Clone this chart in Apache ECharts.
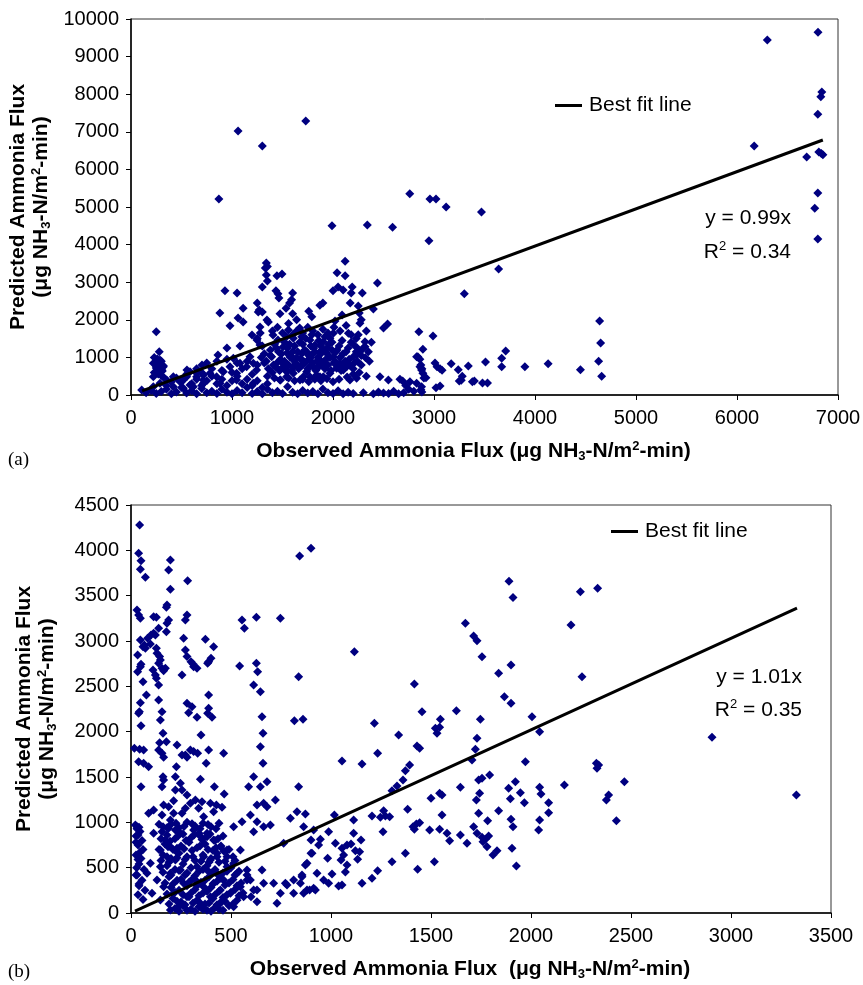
<!DOCTYPE html>
<html><head><meta charset="utf-8">
<script src="https://cdn.jsdelivr.net/npm/echarts@6/dist/echarts.min.js"></script>
<style>html,body{margin:0;padding:0;background:#fff}#c{width:863px;height:985px}</style>
</head><body><div id="c"></div>
<script>
// ---------- DATA: panel (a) ----------
const xMaxA = 7000, xStepA = 1000, yMaxA = 10000, yStepA = 1000;
const fitSlopeA = 0.99, fitXRangeA = [110, 6850];
const eqTextA = 'y = 0.99x', r2TextA = '0.34';
const pointsA = [
[6802,9650],[6300,9440],[6840,8060],[6830,7930],[6800,7470],[6170,6620],[6690,6330],[6810,6460],[6835,6420],[6850,6390],[6800,5370],[6770,4970],[6800,4150],
[1060,7020],[1730,7290],[1300,6620],[870,5210],[2760,5350],[2960,5210],[3020,5210],[3120,5000],[3470,4870],[2950,4100],[1990,4500],[2340,4520],[2590,4460],[3640,3350],[3300,2690],
[1340,3510],[1350,3420],[1330,3380],[1340,3190],[1350,3030],[1445,3170],[1495,3220],[2120,3560],[2040,3250],[2120,3170],[2000,2770],[2050,2870],[2100,2790],[930,2770],[1050,2710],[1300,2870],[1435,2770],[1455,2690],[1465,2580],[1600,2710],[1590,2530],[1570,2450],[2440,2980],[2290,2710],[2190,2870],[2180,2710],[880,2180],[1110,2310],[1060,2050],[1110,1940],[980,1840],[1250,2450],[1270,2260],[1260,2210],[1300,2210],[1360,1940],[1475,2160],[1535,2310],[1600,2160],[1640,2000],[1670,1780],[1760,2230],[1790,2080],[1870,2390],[1900,2450],[2020,1970],[2090,2130],[2170,2450],[2250,2370],[2260,2180],[2280,2000],[2400,2290],[2500,1780],[2540,1890],
[2850,1680],[2990,1570],[2890,1220],[2840,1020],[2828,1019],[2861,753],[2877,665],[2860,950],[2870,800],[2880,700],[2890,580],[2900,450],[2920,460],[3010,850],[3030,750],[3060,700],[3080,660],[3170,830],[3240,670],[3280,500],[3340,770],[3250,370],[3270,390],[3380,350],[3400,370],[3480,320],[3530,320],[3510,880],[3670,980],[3670,750],[3710,1170],[3900,750],[4130,830],[4450,670],[4640,1970],[4650,1380],[4630,900],[4660,500],[3020,190],[3060,240],
[2690,370],[2720,250],[2750,150],[2800,100],[2880,80],[2870,140],
[250,1680],[280,1150],[221,843],[254,753],[287,931],[270,577],[304,665],[221,487],[320,753],[230,1000],[260,960],[300,900],[240,850],[280,820],[320,780],[250,720],[290,680],[310,640],[230,600],[270,560],[300,520],[330,450],
[554,665],[703,800],[861,1064],[950,1250],[1079,1303],[1247,1463],[1277,1330],[1198,1596],[1277,1809],[1346,1995],[1406,1596],[1455,1463],[1505,1277],[1544,1117],[1574,1011],
[1393,1019],[1442,843],[1508,753],[1607,931],[1673,753],[1739,620],[1805,753],[1871,931],[1937,1109],[2003,1019],[2069,843],[2135,753],[2201,1019],[2267,1152],
[2317,1418],[2317,1285],[2234,1064],[2152,1641],[2267,1907],
[1558,1729],[1607,1508],[1690,1551],[1772,1463],[1822,1330],[1904,1418],[1970,1508],[2003,1641],[1739,1152],[1805,1109],[1871,1152],
[1475,665],[1541,620],[1607,577],[1706,487],[1772,487],[1838,532],[1904,487],[1970,577],[2036,710],[2102,665],
[1178,1019],[1211,843],[1145,753],[1244,665],
[1013,976],[1079,843],[980,753],[1046,577],[914,620],[848,487],[782,577],[716,532],[650,487],[584,620],[518,399],
[584,266],[716,399],[881,311],[1046,399],[1211,311],[1475,399],[1541,487],[1673,399],[1871,487],[2168,399],[2234,443],[2465,487],[2548,399],[2663,417],[2762,354],[2828,311],[2877,221],
[106,133],[221,221],[287,311],[353,399],[419,487],[485,354],[551,487],[650,577],[419,221],[518,178],[617,221],[716,311],
[150,60],[200,120],[250,40],[300,90],[350,150],[400,30],[450,80],[500,200],[550,50],[600,110],[650,30],[700,170],[750,60],[800,100],[850,40],[900,150],[950,70],[1000,30],[1050,120],[1100,60],[1150,200],[1200,40],[1250,90],[1300,30],[1350,150],[1400,60],[1450,100],[1500,40],[1550,220],[1600,70],[1650,30],[1700,120],[1750,50],[1800,90],[1850,30],[1900,160],[1950,60],[2000,40],[2050,110],[2100,30],[2150,70],[2200,40],[2300,60],[2400,30],[2450,80],[2500,50],[2550,40],[2600,100],[2650,30],[2700,60],
[1300,1300],[1320,1100],[1380,1200],[1420,1350],[1460,1150],[1480,950],[1520,1400],[1550,1250],[1580,1050],[1620,1300],[1650,1150],[1680,950],[1700,1350],[1720,1200],[1760,1050],[1780,1300],[1820,1150],[1850,1000],[1880,1300],[1900,1200],[1930,950],[1960,1350],[1990,1200],[2030,1150],[2060,1300],[2100,1100],[2150,1250],[2200,1350],[2240,1250],
[1320,850],[1360,700],[1400,600],[1430,750],[1470,650],[1500,850],[1530,700],[1560,800],[1590,650],[1630,850],[1660,700],[1700,800],[1740,900],[1770,750],[1800,850],[1830,650],[1860,750],[1890,850],[1920,700],[1950,800],[1980,650],[2010,850],[2050,750],[2080,650],[2120,900],[2160,800],[2200,700],[2240,900],[2280,800],[2320,1000],
[1350,500],[1420,450],[1480,400],[1560,450],[1620,380],[1700,420],[1760,350],[1820,420],[1880,380],[1940,430],[2000,350],[2060,420],[2140,480],[2200,550],[2260,600],[2330,500],
[1250,1500],[1280,1650],[1400,1700],[1450,1800],[1500,1650],[1560,1900],[1600,1600],[1640,1700],[1700,1650],[1750,1800],[1800,1700],[1850,1600],[1900,1750],[1950,1650],[2010,1800],[2070,1700],[2130,1850],[2180,1600],[2230,1500],
[600,300],[650,420],[700,250],[750,380],[800,500],[850,300],[900,420],[950,250],[1000,380],[1050,500],[1100,300],[1150,420],[1200,250],[1250,380],[1300,200],[1350,300],[700,600],[800,700],[900,650],[1000,600],[1100,700],[1200,550],[1250,800],[1150,900],[1050,850],[950,950],[850,900],[750,850],[650,700],[550,550],[450,450],[400,350],[350,250],[500,350],
[1290,1000],[1340,900],[1380,1050],[1410,800],[1440,1250],[1490,1100],[1520,900],[1540,1550],[1570,1350],[1600,1150],[1610,750],[1640,1000],[1670,1400],[1690,1100],[1710,900],[1730,1500],[1750,700],[1780,1000],[1790,1600],[1810,1250],[1840,900],[1860,1450],[1880,1100],[1910,800],[1920,1550],[1940,1250],[1970,1000],[1990,1400],[2020,900],[2040,1200],[2070,1000],[2090,1450],[2110,750],[2130,1150],[2160,950],[2180,1400],[2210,850],[2230,1150],[2250,1600],[2280,1050],[2300,1250],[2330,1700],[2350,1150],[2360,900],[2380,1400]
];

// ---------- DATA: panel (b) ----------
const xMaxB = 3500, xStepB = 500, yMaxB = 4500, yStepB = 500;
const fitSlopeB = 1.01, fitXRangeB = [20, 3330];
const eqTextB = 'y = 1.01x', r2TextB = '0.35';
const pointsB = [
[43,4280],[38,3967],[50,3886],[47,3791],[72,3703],[197,3894],[188,3783],[197,3570],[283,3665],
[30,3342],[38,3287],[47,3250],[180,3397],[177,3372],[188,3232],[180,3195],[177,3103],
[113,3268],[127,3261],[138,3140],[113,3085],[100,3066],[122,3066],
[47,3011],[67,2956],[72,2920],[60,2937],[97,2967],[83,3030],
[127,2920],[130,2865],[143,2828],[147,2791],[138,2754],
[33,2846],[50,2743],[47,2717],[33,2662],[60,2551],
[110,2680],[122,2625],[155,2699],[163,2672],[172,2699],[127,2588],[138,2515],
[272,3232],[280,3287],[263,3030],[272,2901],[280,2828],[300,2772],[313,2717],[310,2746],
[372,3019],[413,2937],[388,2772],[400,2809],[383,2754],
[255,2625],[330,2699],[77,2405],[47,2320],[42,2220],[50,2066],
[138,2349],[155,2220],[147,2129],[160,1982],[38,2203],
[280,2313],[288,2210],[305,2276],[330,2159],
[388,2405],[388,2258],[405,2159],[383,2203],[350,1963],
[143,1878],[138,1798],[155,1761],[177,1889],[163,1717],
[17,1817],[43,1806],[63,1798],[38,1669],[63,1651],[88,1614],
[230,1853],[255,1743],[272,1743],[280,1717],[297,1798],[313,1780],[333,1761],
[388,1798],[376,1651],
[227,1614],[222,1503],[160,1503],[163,1467],[155,1393],[50,1393],
[463,1761],[347,1475],[417,1393],[466,1313],
[247,1431],[222,1357],[255,1357],[280,1302],[322,1246],[355,1228],[297,1210],[338,1155],[255,1100],[272,1155],[213,1239],
[397,1210],[427,1191],[455,1166],[413,1117],[363,1062],
[22,970],[30,930],[40,945],[35,860],[25,780],[45,670],[35,590],[28,500],[25,420],[40,320],
[88,1100],[113,1136],[163,1191],[188,1172],[213,1100],[197,1026],[155,1081],
[113,879],[155,897],[188,934],[222,915],[247,879],[172,805],[197,732],[230,713],[147,695],[180,621],[222,585],[147,511],[97,548],[80,438],[130,364],[197,438],[247,474],[163,290],[213,217],[263,327],[280,180],[238,70],[197,33],[147,143],[105,217],
[313,916],[347,846],[380,879],[413,805],[447,732],[480,695],[430,658],[397,585],[363,621],[330,511],[380,474],[430,438],[480,511],[513,548],[530,438],[463,364],[413,327],[363,290],[322,364],[447,254],[497,217],[547,290],[580,364],[397,180],[347,107],[447,107],[513,70],[563,180],[613,254],
[630,254],[663,327],[713,327],[747,217],[780,309],[813,217],[847,327],[880,254],[913,272],[930,438],[905,658],[880,548],[855,400],[813,364],[772,327],[730,107],[630,125],[655,474],[580,474],[597,364],[547,695],
[513,952],[555,1007],[597,1081],[630,1007],[663,952],[697,971],[613,897],[680,1173],[763,769],[797,1045],[830,1117],[872,1092],[863,952],[900,805],[913,915],
[613,1503],[647,1393],[680,1448],[722,1246],[588,1393],[630,1191],[663,1210],
[555,3232],[567,3140],[543,2724],[627,3261],[627,2754],[633,2662],[647,2441],[613,2515],[655,2165],[660,1982],[647,1834],[660,1651],
[747,3250],[843,3938],[900,4023],[838,2606],[860,2137],[817,2121],[838,1393],
[1672,3195],[1713,3055],[1730,3003],[1755,2827],[1117,2882],[2200,3177],[2255,2606],[1838,2644],[1900,2735],[1867,2386],[1900,2313],[1417,2526],[1455,2221],[1627,2231],[1522,2037],[1543,2048],[1530,1982],[1547,2137],[1747,2137],[1217,2092],[1338,1963],[1430,1842],[1443,1817],[1730,1927],[1722,1806],[1705,1688],[1233,1761],[2005,2165],[2043,2000],[1055,1677],[1155,1643],[1972,1669],[1393,1632],[1372,1570],[1360,1467],[1330,1401],[1305,1349],[1793,1522],[1755,1486],[1738,1467],[1647,1386],[1922,1448],[1888,1375],[1947,1327],[1897,1261],[1967,1217],[2043,1386],[2050,1313],[2088,1217],[2088,1107],[2043,1026],[2038,915],[2167,1412],[1743,1320],[1727,1246],[1738,1100],[1500,1265],[1543,1320],[1555,1302],[1555,1081],[1838,1128],[1783,1018],[1900,1034],[1910,952],[1713,952],[1730,879],[1755,835],[1772,813],[1788,849],[1760,786],[1780,731],[1810,640],[1830,687],[1905,714],[1927,518],[1647,860],[1680,769],[1593,797],[1580,879],[1543,923],[1493,915],[1383,1144],[1410,952],[1427,982],[1443,996],[1417,923],[1517,566],[1433,482],[1305,566],[1372,658],[1233,467],[1205,383],[1155,328],[1263,1128],[1272,1070],[1247,1055],[1293,1062],[1205,1070],[1260,897],
[1113,1026],[1113,879],[1150,805],[1122,687],[1133,592],[1143,676],[1080,750],[1055,713],[1100,761],[1063,640],[1050,585],[1022,769],[988,897],[983,603],[1017,1081],[947,813],[938,750],[900,658],[872,529],[855,419],[893,254],[863,217],[922,254],[963,364],[988,327],[1005,430],[1038,298],[1055,309],[1072,453],[1080,529],
[1890,3660],[1910,3480],[2247,3544],[2333,3581],[2905,1938],[2327,1651],[2338,1632],[2330,1596],[2467,1448],[2388,1302],[2377,1246],[2427,1018],[3327,1302],
[160,950],[200,980],[240,940],[280,1000],[320,960],[360,990],[400,950],[440,990],
[180,860],[220,820],[260,870],[300,830],[340,880],[380,840],[420,800],[460,850],
[170,760],[210,700],[250,740],[290,780],[330,720],[370,760],[410,690],[450,740],[490,700],
[160,640],[200,600],[240,660],[280,620],[320,580],[360,640],[400,600],[440,560],[480,620],[520,580],
[180,520],[220,480],[260,540],[300,500],[340,460],[380,520],[420,480],[460,440],[500,500],[540,460],[580,420],
[190,400],[230,360],[270,420],[310,380],[350,340],[390,400],[430,350],[470,310],[510,370],[550,330],
[200,280],[240,250],[280,300],[320,260],[360,220],[400,280],[440,240],[480,200],[520,260],[560,220],[600,180],
[210,160],[250,120],[290,180],[330,140],[370,100],[410,160],[450,120],[490,80],[530,140],
[220,50],[260,80],[300,40],[340,70],[380,30],[420,60],[460,30],
[30,950],[45,900],[25,850],[55,800],[35,750],[60,700],[25,640],[50,600],[40,540],[65,480],[30,420],[55,360],[40,300],[70,250],[35,200],[60,150],
[140,980],[180,940],[225,990],[265,955],[305,985],[345,930],[385,975],[425,930],
[150,820],[195,790],[235,850],[275,800],[315,860],[355,810],[395,870],[435,820],
[140,700],[185,730],[225,680],[265,710],[305,690],[345,740],[385,700],[425,720],[465,680],
[150,580],[190,560],[230,610],[270,590],[310,620],[350,570],[390,560],[430,620],[470,570],[510,620],
[160,450],[200,420],[240,470],[280,440],[320,410],[360,480],[400,440],[440,410],[480,460],[520,420],
[170,330],[210,320],[250,370],[290,340],[330,300],[370,360],[410,320],[450,380],[490,330],[530,300],
[180,210],[220,230],[260,200],[300,220],[340,190],[380,240],[420,200],[460,170],[500,230],[540,190],
[190,100],[230,130],[270,90],[310,110],[350,60],[390,110],[430,90],[470,130],[510,100],
[240,20],[280,30],[320,20],[360,40],[400,20],[440,40]
];

// ---------- STYLE ----------
const FONT = '"Liberation Sans", Arial, Helvetica, sans-serif';
const SERIF = '"Liberation Serif", "Times New Roman", serif';
const NAVY = '#000080';

function fitLine(slope, range) { return range.map(x => [x, +(slope * x).toFixed(1)]); }

const nameRich = {
  b:  { fontFamily: FONT, fontSize: 21, fontWeight: 'bold', color: '#000', lineHeight: 23 },
  sb: { fontFamily: FONT, fontSize: 13, fontWeight: 'bold', color: '#000', verticalAlign: 'bottom', lineHeight: 10 },
  sp: { fontFamily: FONT, fontSize: 13, fontWeight: 'bold', color: '#000', verticalAlign: 'top', lineHeight: 10 }
};
const yName = '{b|Predicted Ammonia Flux}\n{b|(μg NH}{sb|3}{b|-N/m}{sp|2}{b|-min)}';
const xNameA = '{b|Observed Ammonia Flux (μg NH}{sb|3}{b|-N/m}{sp|2}{b|-min)}';
const xNameB = '{b|Observed Ammonia Flux  (μg NH}{sb|3}{b|-N/m}{sp|2}{b|-min)}';
const plain = v => String(v);

function xAxisCfg(gi, max, step, name) {
  return {
    type: 'value', gridIndex: gi, min: 0, max: max, interval: step,
    name: name, nameLocation: 'middle', nameGap: 45,
    nameTextStyle: { rich: nameRich, padding: [0, 22, 0, 0] },
    axisLine: { show: true, onZero: false, lineStyle: { color: '#000', width: 1.5 } },
    axisTick: { show: true, inside: false, length: 5, lineStyle: { color: '#000', width: 1 } },
    axisLabel: { fontFamily: FONT, fontSize: 20, color: '#000', margin: 13, formatter: plain, hideOverlap: false },
    splitLine: { show: false }
  };
}
function yAxisCfg(gi, max, step) {
  return {
    type: 'value', gridIndex: gi, min: 0, max: max, interval: step,
    name: yName, nameLocation: 'middle', nameRotate: 90, nameGap: 72,
    nameTextStyle: { rich: nameRich, lineHeight: 23 },
    axisLine: { show: true, onZero: false, lineStyle: { color: '#000', width: 1.5 } },
    axisTick: { show: true, inside: false, length: 5, lineStyle: { color: '#000', width: 1 } },
    axisLabel: { fontFamily: FONT, fontSize: 20, color: '#000', margin: 12, formatter: plain, hideOverlap: false },
    splitLine: { show: false }
  };
}
function legendCfg(left, top) {
  return {
    data: ['Best fit line'], left: left, top: top, padding: 0, orient: 'horizontal',
    icon: 'rect', itemWidth: 27, itemHeight: 3, itemGap: 10,
    itemStyle: { color: '#000' },
    textStyle: { fontFamily: FONT, fontSize: 21, color: '#000', padding: [0, 0, 0, 2] },
    selectedMode: false
  };
}
const eqRich = {
  a: { fontFamily: FONT, fontSize: 21, color: '#000', lineHeight: 24 },
  s: { fontFamily: FONT, fontSize: 13, color: '#000', verticalAlign: 'top', lineHeight: 10 }
};
function eqText(x, y, t) {
  return { type: 'text', x: x, y: y, silent: true,
    style: { text: t, align: 'right', verticalAlign: 'middle', font: '21px ' + FONT, fill: '#000' } };
}
function r2Text(x, y, v) {
  return { type: 'text', x: x, y: y, silent: true,
    style: { text: '{a|R}{s|2}{a| = ' + v + '}', rich: eqRich, align: 'right', verticalAlign: 'middle', fill: '#000' } };
}

const chart = echarts.init(document.getElementById('c'), null, { renderer: 'canvas' });
chart.setOption({
  animation: false,
  backgroundColor: '#fff',
  grid: [
    { left: 131, right: 25, top: 19, height: 376, containLabel: false, outerBoundsMode: 'none', show: true, borderColor: '#333', borderWidth: 1 },
    { left: 131, right: 32, top: 505, height: 408, containLabel: false, outerBoundsMode: 'none', show: true, borderColor: '#333', borderWidth: 1 }
  ],
  xAxis: [ xAxisCfg(0, xMaxA, xStepA, xNameA), xAxisCfg(1, xMaxB, xStepB, xNameB) ],
  yAxis: [ yAxisCfg(0, yMaxA, yStepA), yAxisCfg(1, yMaxB, yStepB) ],
  legend: [ legendCfg(555, 95), legendCfg(611, 521) ],
  series: [
    { type: 'scatter', name: 'Observations (a)', xAxisIndex: 0, yAxisIndex: 0, data: pointsA,
      symbol: 'diamond', symbolSize: 9, itemStyle: { color: NAVY, opacity: 1 }, z: 2, silent: true, large: false },
    { type: 'line', name: 'Best fit line', xAxisIndex: 0, yAxisIndex: 0, data: fitLine(fitSlopeA, fitXRangeA),
      symbol: 'none', lineStyle: { color: '#000', width: 3 }, itemStyle: { color: '#000' }, z: 3, silent: true },
    { type: 'scatter', name: 'Observations (b)', xAxisIndex: 1, yAxisIndex: 1, data: pointsB,
      symbol: 'diamond', symbolSize: 9, itemStyle: { color: NAVY, opacity: 1 }, z: 2, silent: true, large: false },
    { type: 'line', name: 'Best fit line', xAxisIndex: 1, yAxisIndex: 1, data: fitLine(fitSlopeB, fitXRangeB),
      symbol: 'none', lineStyle: { color: '#000', width: 3 }, itemStyle: { color: '#000' }, z: 3, silent: true }
  ],
  graphic: [
    { type: 'text', x: 8, y: 460, silent: true, style: { text: '(a)', verticalAlign: 'middle', font: '19px ' + SERIF, fill: '#000' } },
    { type: 'text', x: 8, y: 972, silent: true, style: { text: '(b)', verticalAlign: 'middle', font: '19px ' + SERIF, fill: '#000' } },
    eqText(791, 218, eqTextA), r2Text(791, 252, r2TextA),
    eqText(802, 677, eqTextB), r2Text(802, 710, r2TextB)
  ]
});
</script>
</body></html>
